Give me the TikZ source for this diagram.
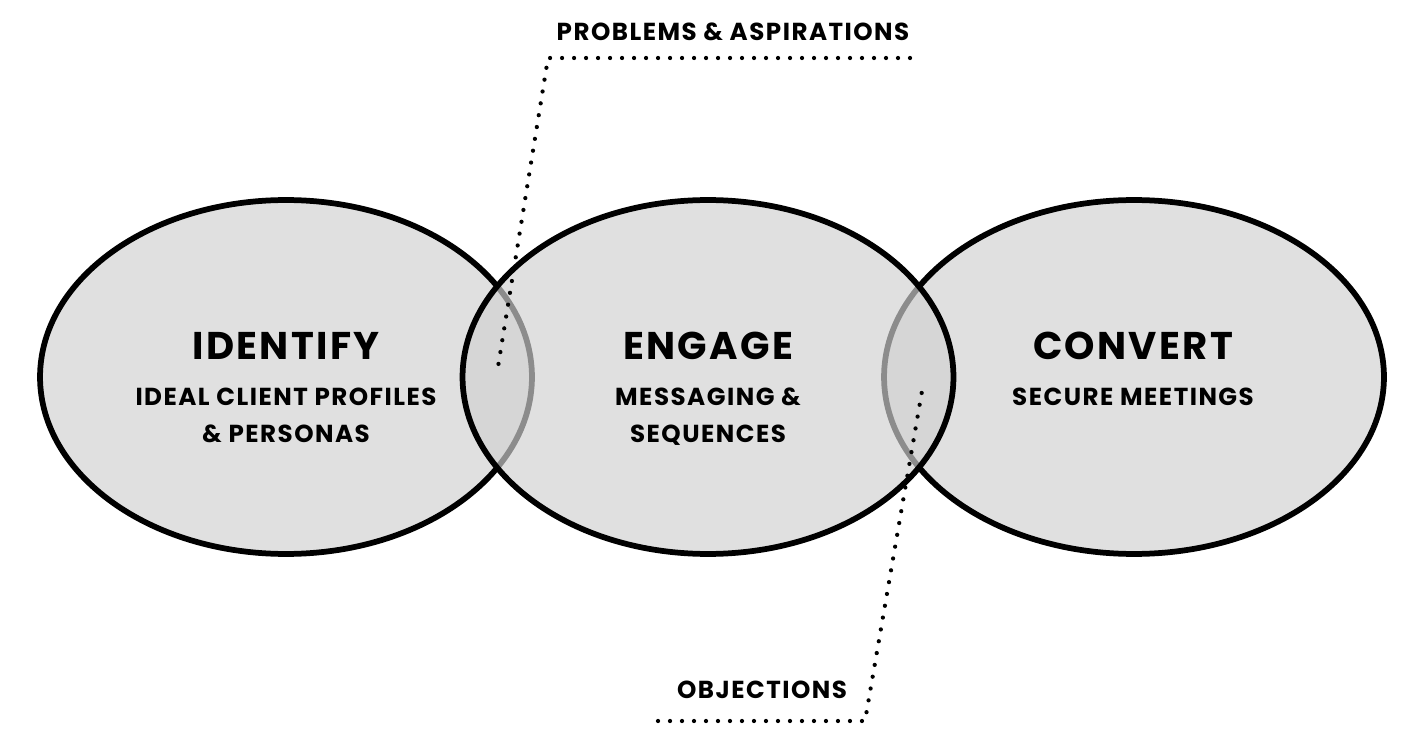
\documentclass[tikz,border=0pt]{standalone}
\usepackage{fontspec}
\setmainfont{Poppins}
\usetikzlibrary{positioning,calc}

\tikzset{
  blob/.style={fill=black!18, fill opacity=0.67, draw=black, draw opacity=1, line width=0.115cm},
  headtext/.style={font=\bfseries\fontsize{22}{26}\selectfont\addfontfeatures{LetterSpace=6}, inner sep=0pt},
  subtext/.style={font=\bfseries\fontsize{14}{21}\selectfont\addfontfeatures{LetterSpace=6}, align=center, inner sep=0pt},
  dotline/.style={line width=0.085cm, line cap=round, dash pattern=on 0pt off 0.24cm},
}

\begin{document}
\begin{tikzpicture}[x=0.02cm, y=-0.02cm]

                % Canvas (pixel grid of the reference)
                \useasboundingbox (0,0) rectangle (1417,743);

                % Stages: left and right first, middle on top
                \path[blob] (286,377) ellipse [x radius=4.92cm, y radius=3.54cm];
                \path[blob] (1134,377) ellipse [x radius=5.0cm, y radius=3.54cm];
                \path[blob] (708,377) ellipse [x radius=4.91cm, y radius=3.54cm];

                % Stage titles
                \node[headtext] (identify) at (286,346) {IDENTIFY};
                \node[headtext] (engage) at (708,346) {ENGAGE};
                \node[headtext] (convert) at (1133,346) {CONVERT};

                % Stage details
                \node[subtext, below=0.55cm of identify] {IDEAL CLIENT PROFILES\\\& PERSONAS};
                \node[subtext, below=0.55cm of engage] {MESSAGING \&\\SEQUENCES};
                \node[subtext, below=0.55cm of convert] {SECURE MEETINGS};

                % Call-out labels
                \node[subtext] (problems) at (733,32) {PROBLEMS \& ASPIRATIONS};
                \node[subtext] (objections) at (762,690) {OBJECTIONS};

                % Call-out leaders
                \coordinate (problems-end) at (910,58);
                \coordinate (problems-bend) at (548,58);
                \coordinate (problems-tip) at (497,373);
                \draw[dotline] (problems-end) -- (problems-bend) -- (problems-tip);

                \coordinate (objections-end) at (658,721);
                \coordinate (objections-bend) at (865,721);
                \coordinate (objections-tip) at (922,391);
                \draw[dotline] (objections-end) -- (objections-bend) -- (objections-tip);

\end{tikzpicture}
\end{document}
